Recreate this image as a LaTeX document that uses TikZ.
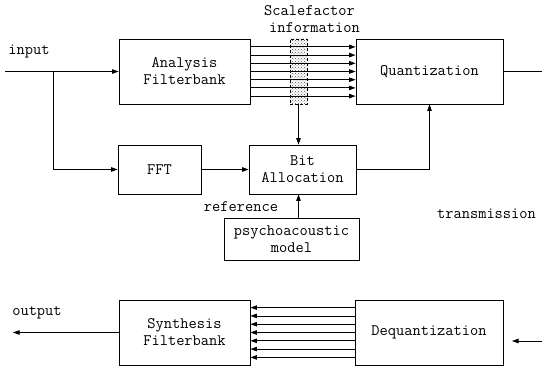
\documentclass[tikz,border=0pt]{standalone}
\usepackage{tikz}
\usetikzlibrary{arrows.meta,patterns}

\begin{document}
\begin{tikzpicture}[x=1pt,y=-1pt,
    font=\ttfamily\fontsize{16}{17}\selectfont,
    block/.style={draw,line width=0.8pt,inner sep=0pt,align=center},
    sig/.style={line width=0.8pt,-{Triangle[length=6.5pt,width=4.5pt]}},
    wire/.style={line width=0.8pt}]
  \useasboundingbox (0,0) rectangle (542,369);

  % encoder
  \node[block,minimum width=131,minimum height=65] (ana) at (184.5,71.5) {Analysis\\Filterbank};
  \node[block,minimum width=147,minimum height=65] (quant) at (429.5,71.5) {Quantization};
  \node[draw,densely dashed,line width=0.5pt,pattern=crosshatch dots,pattern color=black!70,
        minimum width=17,minimum height=65,inner sep=0pt] (scf) at (298.5,71.5) {};
  \node[block,minimum width=83,minimum height=49] (fft) at (159.5,169.5) {FFT};
  \node[block,minimum width=107,minimum height=49] (bit) at (302.5,169.5) {Bit\\Allocation};
  \node[block,minimum width=135,minimum height=42] (psy) at (291.5,239) {psychoacoustic\\model};

  \node[align=left,inner sep=0pt] (scftxt) at (312,19) {Scalefactor\\\hspace*{5pt}information};
  \node[inner sep=0pt] (intxt) at (29,51) {input};
  \node[inner sep=0pt] (reftxt) at (241,207) {reference};
  \node[inner sep=0pt] (trtxt) at (486.5,214) {transmission};

  \coordinate (in) at (5,71.5);
  \coordinate (split) at (53,71.5);
  \coordinate (qout) at (542,71.5);

  \draw[sig] (in) -- (ana.west);
  \draw[sig] (split) |- (fft.west);
  \draw[sig] (fft.east) -- (bit.west);
  \foreach \i in {-3,...,3}
    \draw[sig] ([yshift=\i*8.2pt]ana.east) -- ([yshift=\i*8.2pt]quant.west);
  \draw[sig] (scf.south) -- (scf.south |- bit.north);
  \draw[sig] (psy.north -| scf.south) -- (bit.south -| scf.south);
  \draw[sig] (bit.east) -| (quant.south);
  \draw[wire] (quant.east) -- (qout);

  % decoder
  \node[block,minimum width=131,minimum height=65] (syn) at (184.5,332.5) {Synthesis\\Filterbank};
  \node[block,minimum width=148,minimum height=65] (deq) at (429,332.5) {Dequantization};
  \node[inner sep=0pt] (outtxt) at (37,313) {output};

  \coordinate (out) at (13,332.5);
  \coordinate (rin) at (542,341);
  \coordinate (rtip) at (512,341);

  \foreach \i in {-3,...,3}
    \draw[sig] ([yshift=\i*8.3pt]deq.west) -- ([yshift=\i*8.3pt]syn.east);
  \draw[sig] (syn.west) -- (out);
  \draw[sig] (rin) -- (rtip);
\end{tikzpicture}
\end{document}
